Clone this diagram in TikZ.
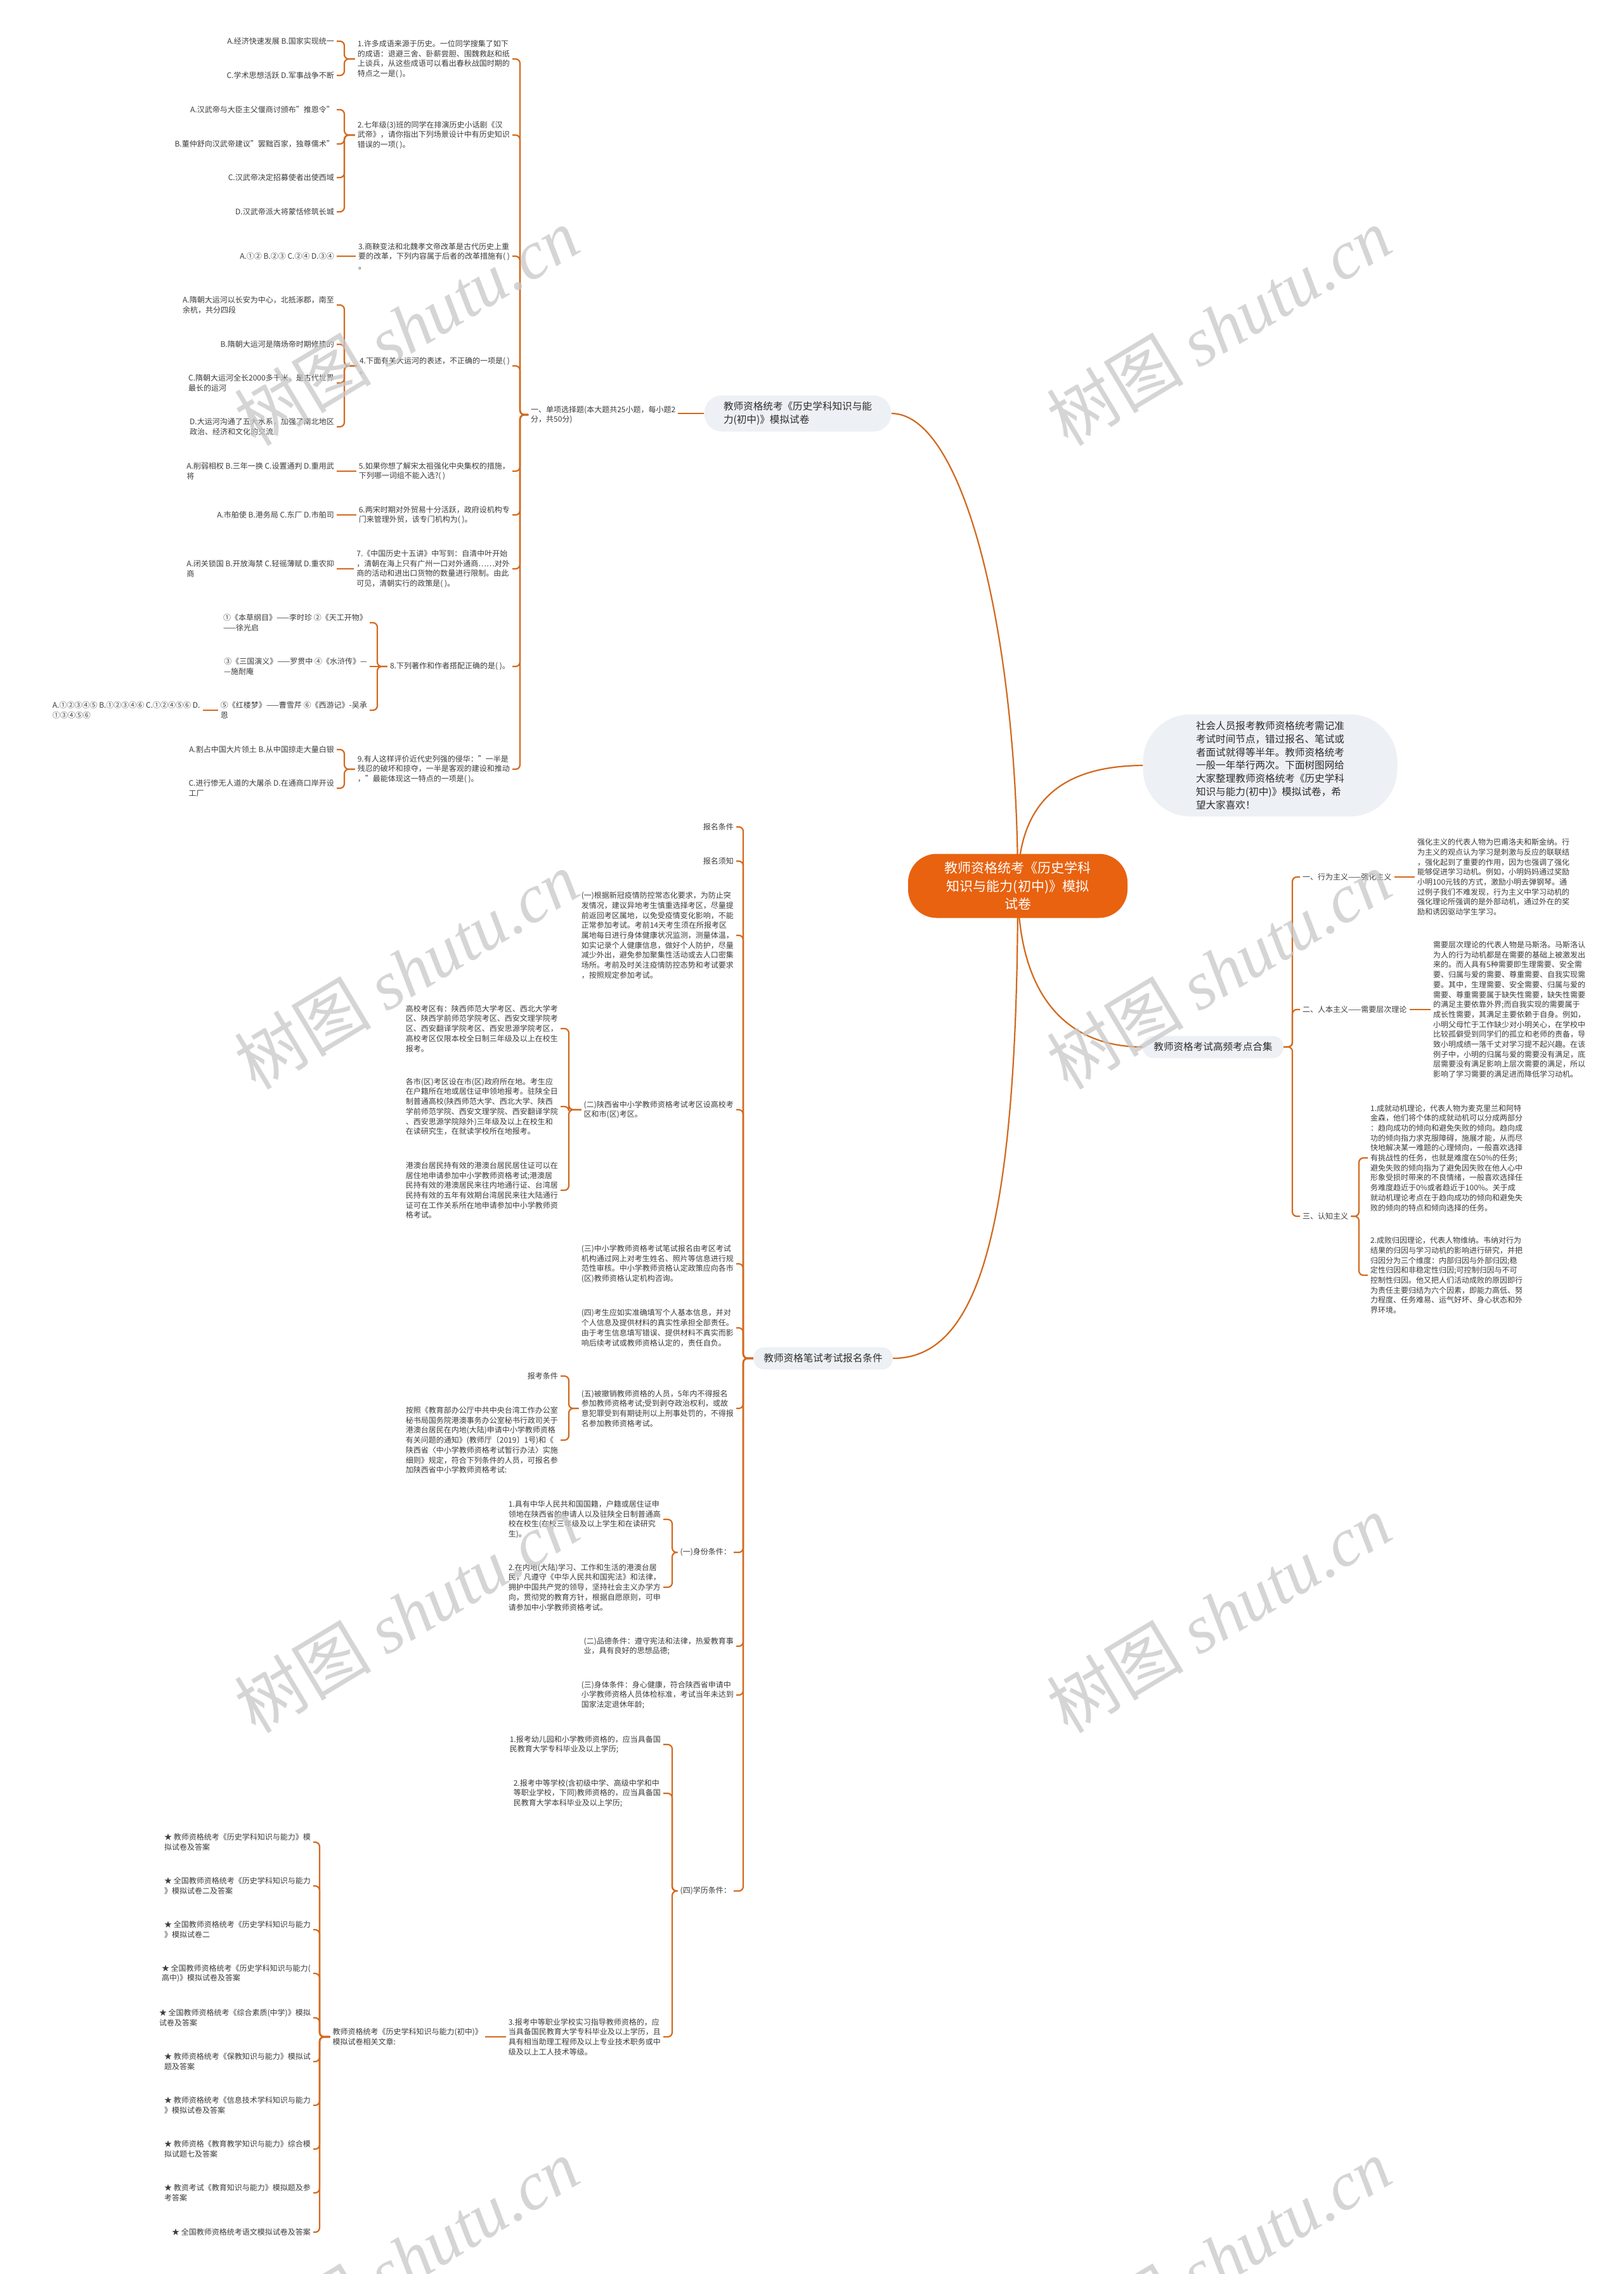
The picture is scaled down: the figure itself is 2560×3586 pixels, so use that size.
\documentclass[tikz,border=0pt]{standalone}
\usepackage{fontspec}
\setmainfont{Noto Sans CJK SC}
\newfontfamily\wmserif{Liberation Serif}
\usetikzlibrary{backgrounds}
\definecolor{conn}{RGB}{210,105,30}
\definecolor{orangec}{RGB}{232,98,16}
\definecolor{nodegray}{RGB}{237,240,244}
\definecolor{txtc}{RGB}{60,60,60}
\definecolor{darktxt}{RGB}{45,45,45}
\definecolor{wmc}{RGB}{200,200,200}
\newcommand\lkbr[3]{\draw[cn] (#1.west) -| (#3 |- #2.east) -- (#2.east);}
\newcommand\rkbr[3]{\draw[cn] (#1.east) -| (#3 |- #2.west) -- (#2.west);}
\tikzset{
  cn/.style={draw=conn, line width=2.2pt, rounded corners=7pt},
  mc/.style={draw=conn, line width=2.2pt},
  tx/.style={font=\fontsize{12}{15.7}\selectfont, text=txtc, align=left, inner xsep=4pt, inner ysep=2pt},
  txl/.style={tx, anchor=east},
  txr/.style={tx, anchor=west},
  gnode/.style={fill=nodegray, text=darktxt, font=\fontsize{15.6}{20.7}\selectfont, align=left, inner sep=0pt},
  cnode/.style={fill=orangec, text=white, font=\fontsize{21}{28.3}\selectfont, align=center, rounded corners=45pt, minimum width=346pt, minimum height=101pt, inner sep=0pt},
  wmk/.style={text=wmc, font=\fontsize{108}{112}\selectfont, rotate=31, opacity=0.75}
}
\begin{document}
\begin{tikzpicture}[x=1pt,y=-1pt]
\useasboundingbox (0,0) rectangle (2560,3586);

% spine coordinates
\coordinate (s1) at (820,0);
\coordinate (s2) at (543,0);
\coordinate (s2b) at (595,0);
\coordinate (s3) at (2038,0);
\coordinate (s4) at (2143,0);
\coordinate (s5) at (1172,0);
\coordinate (s6) at (897,0);
\coordinate (s7) at (1060,0);
\coordinate (s8) at (504,0);

% main nodes
\node[cnode] (ctr) at (1605,1397) {教师资格统考《历史学科\\知识与能力(初中)》模拟\\试卷};
\node[gnode, minimum width=295pt, minimum height=57pt, rounded corners=28pt] (mn) at (1258,652) {教师资格统考《历史学科知识与能\\力(初中)》模拟试卷};
\node[gnode, minimum width=401pt, minimum height=161pt, rounded corners=75pt] (soc) at (2003,1207) {社会人员报考教师资格统考需记准\\考试时间节点，错过报名、笔试或\\者面试就得等半年。教师资格统考\\一般一年举行两次。下面树图网给\\大家整理教师资格统考《历史学科\\知识与能力(初中)》模拟试卷，希\\望大家喜欢！};
\node[gnode, minimum width=222pt, minimum height=35pt, rounded corners=17pt] (kd) at (1913,1651) {教师资格考试高频考点合集};
\node[gnode, minimum width=220pt, minimum height=35pt, rounded corners=17pt] (bm) at (1298,2142) {教师资格笔试考试报名条件};

% ---------- section A ----------
\node[txr] (sel) at (833,654) {一、单项选择题(本大题共25小题，每小题2\\分，共50分)};

\node[txl] (q1) at (808,93) {1.许多成语来源于历史。一位同学搜集了如下\\的成语：退避三舍、卧薪尝胆、围魏救赵和纸\\上谈兵，从这些成语可以看出春秋战国时期的\\特点之一是( )。};
\node[txl] (q1a) at (531,65) {A.经济快速发展 B.国家实现统一};
\node[txl] (q1b) at (531,119) {C.学术思想活跃 D.军事战争不断};

\node[txl] (q2) at (808,213) {2.七年级(3)班的同学在排演历史小话剧《汉\\武帝》，请你指出下列场景设计中有历史知识\\错误的一项( )。};
\node[txl] (q2a) at (531,173) {A.汉武帝与大臣主父偃商讨颁布"推恩令"};
\node[txl] (q2b) at (531,227) {B.董仲舒向汉武帝建议"罢黜百家，独尊儒术"};
\node[txl] (q2c) at (531,280) {C.汉武帝决定招募使者出使西域};
\node[txl] (q2d) at (531,334) {D.汉武帝派大将蒙恬修筑长城};

\node[txl] (q3) at (808,404) {3.商鞅变法和北魏孝文帝改革是古代历史上重\\要的改革，下列内容属于后者的改革措施有( )\\。};
\node[txl] (q3a) at (531,404) {A.①② B.②③ C.②④ D.③④};

\node[txl] (q4) at (808,577) {4.下面有关大运河的表述，不正确的一项是( )\\。};
\node[txl] (q4a) at (531,481) {A.隋朝大运河以长安为中心，北抵涿郡，南至\\余杭，共分四段};
\node[txl] (q4b) at (531,543) {B.隋朝大运河是隋炀帝时期修建的};
\node[txl] (q4c) at (531,604) {C.隋朝大运河全长2000多千米，是古代世界\\最长的运河};
\node[txl] (q4d) at (531,673) {D.大运河沟通了五大水系，加强了南北地区\\政治、经济和文化的交流};

\node[txl] (q5) at (808,743) {5.如果你想了解宋太祖强化中央集权的措施，\\下列哪一词组不能入选?( )};
\node[txl] (q5a) at (531,743) {A.削弱相权 B.三年一换 C.设置通判 D.重用武\\将};

\node[txl] (q6) at (808,812) {6.两宋时期对外贸易十分活跃，政府设机构专\\门来管理外贸，该专门机构为( )。};
\node[txl] (q6a) at (531,812) {A.市舶使 B.港务局 C.东厂 D.市舶司};

\node[txl] (q7) at (808,897) {7.《中国历史十五讲》中写到：自清中叶开始\\，清朝在海上只有广州一口对外通商……对外\\商的活动和进出口货物的数量进行限制。由此\\可见，清朝实行的政策是( )。};
\node[txl] (q7a) at (531,897) {A.闭关锁国 B.开放海禁 C.轻徭薄赋 D.重农抑\\商};

\node[txl] (q8) at (808,1051) {8.下列著作和作者搭配正确的是( )。};
\node[txl] (q8a) at (583,982) {①《本草纲目》——李时珍 ②《天工开物》\\——徐光启};
\node[txl] (q8b) at (583,1051) {③《三国演义》——罗贯中 ④《水浒传》—\\—施耐庵};
\node[txl] (q8c) at (583,1120) {⑤《红楼梦》——曹雪芹 ⑥《西游记》-吴承\\恩};
\node[txl] (q8x) at ([xshift=-24pt]q8c.west) {A.①②③④⑤ B.①②③④⑥ C.①②④⑤⑥ D.\\①③④⑤⑥};

\node[txl] (q9) at (808,1213) {9.有人这样评价近代史列强的侵华："一半是\\残忍的破坏和掠夺，一半是客观的建设和推动\\，"最能体现这一特点的一项是( )。};
\node[txl] (q9a) at (531,1182) {A.割占中国大片领土 B.从中国掠走大量白银};
\node[txl] (q9b) at (531,1243) {C.进行惨无人道的大屠杀 D.在通商口岸开设\\工厂};

% ---------- right section ----------
\node[txr] (b1) at (2050,1383) {一、行为主义——强化主义};
\node[txr] (r1) at (2231,1383) {强化主义的代表人物为巴甫洛夫和斯金纳。行\\为主义的观点认为学习是刺激与反应的联联结\\，强化起到了重要的作用，因为也强调了强化\\能够促进学习动机。例如，小明妈妈通过奖励\\小明100元钱的方式，激励小明去弹钢琴。通\\过例子我们不难发现，行为主义中学习动机的\\强化理论所强调的是外部动机，通过外在的奖\\励和诱因驱动学生学习。};
\node[txr] (b2) at (2050,1592) {二、人本主义——需要层次理论};
\node[txr] (r2) at (2256,1592) {需要层次理论的代表人物是马斯洛。马斯洛认\\为人的行为动机都是在需要的基础上被激发出\\来的。而人具有5种需要即生理需要、安全需\\要、归属与爱的需要、尊重需要、自我实现需\\要。其中，生理需要、安全需要、归属与爱的\\需要、尊重需要属于缺失性需要，缺失性需要\\的满足主要依靠外界;而自我实现的需要属于\\成长性需要，其满足主要依赖于自身。例如，\\小明父母忙于工作缺少对小明关心，在学校中\\比较孤僻受到同学们的孤立和老师的责备，导\\致小明成绩一落千丈对学习提不起兴趣。在该\\例子中，小明的归属与爱的需要没有满足，底\\层需要没有满足影响上层次需要的满足，所以\\影响了学习需要的满足进而降低学习动机。};
\node[txr] (b3) at (2050,1918) {三、认知主义};
\node[txr] (r3a) at (2157,1826) {1.成就动机理论，代表人物为麦克里兰和阿特\\金森，他们将个体的成就动机可以分成两部分\\：趋向成功的倾向和避免失败的倾向。趋向成\\功的倾向指力求克服障碍，施展才能，从而尽\\快地解决某一难题的心理倾向，一般喜欢选择\\有挑战性的任务，也就是难度在50\%的任务;\\避免失败的倾向指为了避免因失败在他人心中\\形象受损时带来的不良情绪，一般喜欢选择任\\务难度趋近于0\%或者趋近于100\%。关于成\\就动机理论考点在于趋向成功的倾向和避免失\\败的倾向的特点和倾向选择的任务。};
\node[txr] (r3b) at (2157,2011) {2.成败归因理论，代表人物维纳。韦纳对行为\\结果的归因与学习动机的影响进行研究，并把\\归因分为三个维度：内部归因与外部归因;稳\\定性归因和非稳定性归因;可控制归因与不可\\控制性归因。他又把人们活动成败的原因即行\\为责任主要归结为六个因素，即能力高低、努\\力程度、任务难易、运气好坏、身心状态和外\\界环境。};

% ---------- bottom section ----------
\node[txl] (c1) at (1161,1304) {报名条件};
\node[txl] (c2) at (1161,1358) {报名须知};
\node[txl] (c3) at (1161,1475) {(一)根据新冠疫情防控常态化要求，为防止突\\发情况，建议异地考生慎重选择考区，尽量提\\前返回考区属地，以免受疫情变化影响，不能\\正常参加考试。考前14天考生须在所报考区\\属地每日进行身体健康状况监测，测量体温，\\如实记录个人健康信息，做好个人防护，尽量\\减少外出，避免参加聚集性活动或去人口密集\\场所。考前及时关注疫情防控态势和考试要求\\，按照规定参加考试。};
\node[txl] (c4) at (1161,1750) {(二)陕西省中小学教师资格考试考区设高校考\\区和市(区)考区。};
\node[txl] (c4a) at (884,1622) {高校考区有：陕西师范大学考区、西北大学考\\区、陕西学前师范学院考区、西安文理学院考\\区、西安翻译学院考区、西安思源学院考区，\\高校考区仅限本校全日制三年级及以上在校生\\报考。};
\node[txl] (c4b) at (884,1745) {各市(区)考区设在市(区)政府所在地。考生应\\在户籍所在地或居住证申领地报考。驻陕全日\\制普通高校(陕西师范大学、西北大学、陕西\\学前师范学院、西安文理学院、西安翻译学院\\、西安思源学院除外)三年级及以上在校生和\\在读研究生，在就读学校所在地报考。};
\node[txl] (c4c) at (884,1877) {港澳台居民持有效的港澳台居民居住证可以在\\居住地申请参加中小学教师资格考试;港澳居\\民持有效的港澳居民来往内地通行证、台湾居\\民持有效的五年有效期台湾居民来往大陆通行\\证可在工作关系所在地申请参加中小学教师资\\格考试。};
\node[txl] (c5) at (1161,1993) {(三)中小学教师资格考试笔试报名由考区考试\\机构通过网上对考生姓名、照片等信息进行规\\范性审核。中小学教师资格认定政策应向各市\\(区)教师资格认定机构咨询。};
\node[txl] (c6) at (1161,2094) {(四)考生应如实准确填写个人基本信息，并对\\个人信息及提供材料的真实性承担全部责任。\\由于考生信息填写错误、提供材料不真实而影\\响后续考试或教师资格认定的，责任自负。};
\node[txl] (c7) at (1161,2221) {(五)被撤销教师资格的人员，5年内不得报名\\参加教师资格考试;受到剥夺政治权利，或故\\意犯罪受到有期徒刑以上刑事处罚的，不得报\\名参加教师资格考试。};
\node[txl] (c7a) at (884,2170) {报考条件};
\node[txl] (c7b) at (884,2271) {按照《教育部办公厅中共中央台湾工作办公室\\秘书局国务院港澳事务办公室秘书行政司关于\\港澳台居民在内地(大陆)申请中小学教师资格\\有关问题的通知》(教师厅〔2019〕1号)和《\\陕西省〈中小学教师资格考试暂行办法〉实施\\细则》规定，符合下列条件的人员，可报名参\\加陕西省中小学教师资格考试:};
\node[txl] (c8) at (1157,2448) {(一)身份条件：};
\node[txl] (c8a) at (1046,2396) {1.具有中华人民共和国国籍，户籍或居住证申\\领地在陕西省的申请人以及驻陕全日制普通高\\校在校生(在校三年级及以上学生和在读研究\\生)。};
\node[txl] (c8b) at (1046,2503) {2.在内地(大陆)学习、工作和生活的港澳台居\\民，凡遵守《中华人民共和国宪法》和法律，\\拥护中国共产党的领导，坚持社会主义办学方\\向，贯彻党的教育方针，根据自愿原则，可申\\请参加中小学教师资格考试。};
\node[txl] (c9) at (1161,2596) {(二)品德条件：遵守宪法和法律，热爱教育事\\业，具有良好的思想品德;};
\node[txl] (c10) at (1161,2673) {(三)身体条件：身心健康，符合陕西省申请中\\小学教师资格人员体检标准，考试当年未达到\\国家法定退休年龄;};
\node[txl] (c11) at (1157,2982) {(四)学历条件：};
\node[txl] (c11a) at (1046,2751) {1.报考幼儿园和小学教师资格的，应当具备国\\民教育大学专科毕业及以上学历;};
\node[txl] (c11b) at (1046,2828) {2.报考中等学校(含初级中学、高级中学和中\\等职业学校，下同)教师资格的，应当具备国\\民教育大学本科毕业及以上学历;};
\node[txl] (c11c) at (1046,3212) {3.报考中等职业学校实习指导教师资格的，应\\当具备国民教育大学专科毕业及以上学历，且\\具有相当助理工程师及以上专业技术职务或中\\级及以上工人技术等级。};
\node[txl] (rel) at (765,3212) {教师资格统考《历史学科知识与能力(初中)》\\模拟试卷相关文章:};
\node[txl] (a1) at (494,2905) {★ 教师资格统考《历史学科知识与能力》模\\拟试卷及答案};
\node[txl] (a2) at (494,2974) {★ 全国教师资格统考《历史学科知识与能力\\》模拟试卷二及答案};
\node[txl] (a3) at (494,3043) {★ 全国教师资格统考《历史学科知识与能力\\》模拟试卷二};
\node[txl] (a4) at (494,3112) {★ 全国教师资格统考《历史学科知识与能力(\\高中)》模拟试卷及答案};
\node[txl] (a5) at (494,3182) {★ 全国教师资格统考《综合素质(中学)》模拟\\试卷及答案};
\node[txl] (a6) at (494,3251) {★ 教师资格统考《保教知识与能力》模拟试\\题及答案};
\node[txl] (a7) at (494,3320) {★ 教师资格统考《信息技术学科知识与能力\\》模拟试卷及答案};
\node[txl] (a8) at (494,3389) {★ 教师资格《教育教学知识与能力》综合模\\拟试题七及答案};
\node[txl] (a9) at (494,3458) {★ 教资考试《教育知识与能力》模拟题及参\\考答案};
\node[txl] (a10) at (494,3520) {★ 全国教师资格统考语文模拟试卷及答案};

% ---------- connectors ----------
\begin{scope}[on background layer]
\fill[white] (0,0) rectangle (2560,3586);
\draw[mc] (ctr.center) .. controls (1605,1000) and (1520,652) .. (mn.east);
\draw[mc] (ctr.center) .. controls (1605,1250) and (1690,1208) .. (soc.west);
\draw[mc] (ctr.center) .. controls (1605,1580) and (1690,1651) .. (kd.west);
\draw[mc] (ctr.center) .. controls (1605,1950) and (1540,2142) .. (bm.east);
\end{scope}

\draw[mc] (mn.west) -- (mn.west -| sel.east);
\foreach \q in {q1,q2,q3,q4,q5,q6,q7,q8,q9} {\lkbr{sel}{\q}{s1}}
\lkbr{q1}{q1a}{s2} \lkbr{q1}{q1b}{s2}
\lkbr{q2}{q2a}{s2} \lkbr{q2}{q2b}{s2} \lkbr{q2}{q2c}{s2} \lkbr{q2}{q2d}{s2}
\draw[mc] (q3.west) -- (q3a.east);
\lkbr{q4}{q4a}{s2} \lkbr{q4}{q4b}{s2} \lkbr{q4}{q4c}{s2} \lkbr{q4}{q4d}{s2}
\draw[mc] (q5.west) -- (q5a.east);
\draw[mc] (q6.west) -- (q6a.east);
\draw[mc] (q7.west) -- (q7a.east);
\lkbr{q8}{q8a}{s2b} \draw[mc] (q8.west) -- (q8b.east); \lkbr{q8}{q8c}{s2b}
\draw[mc] (q8c.west) -- (q8x.east);
\lkbr{q9}{q9a}{s2} \lkbr{q9}{q9b}{s2}

\rkbr{kd}{b1}{s3} \rkbr{kd}{b2}{s3} \rkbr{kd}{b3}{s3}
\draw[mc] (b1.east) -- (r1.west);
\draw[mc] (b2.east) -- (r2.west);
\rkbr{b3}{r3a}{s4} \rkbr{b3}{r3b}{s4}

\foreach \c in {c1,c2,c3,c4,c5,c6,c7,c8,c9,c10,c11} {\lkbr{bm}{\c}{s5}}
\lkbr{c4}{c4a}{s6} \lkbr{c4}{c4b}{s6} \lkbr{c4}{c4c}{s6}
\lkbr{c7}{c7a}{s6} \lkbr{c7}{c7b}{s6}
\lkbr{c8}{c8a}{s7} \lkbr{c8}{c8b}{s7}
\lkbr{c11}{c11a}{s7} \lkbr{c11}{c11b}{s7} \lkbr{c11}{c11c}{s7}
\draw[mc] (c11c.west) -- (rel.east);
\foreach \a in {a1,a2,a3,a4,a5,a6,a7,a8,a9,a10} {\lkbr{rel}{\a}{s8}}

% ---------- watermarks ----------
\node[wmk] (w1) at (641,515) {树图 {\wmserif\itshape shutu.cn}};
\node[wmk] (w2) at (1922,515) {树图 {\wmserif\itshape shutu.cn}};
\node[wmk] (w3) at (641,1530) {树图 {\wmserif\itshape shutu.cn}};
\node[wmk] (w4) at (1922,1530) {树图 {\wmserif\itshape shutu.cn}};
\node[wmk] (w5) at (641,2545) {树图 {\wmserif\itshape shutu.cn}};
\node[wmk] (w6) at (1922,2545) {树图 {\wmserif\itshape shutu.cn}};
\node[wmk] (w7) at (641,3560) {树图 {\wmserif\itshape shutu.cn}};
\node[wmk] (w8) at (1922,3560) {树图 {\wmserif\itshape shutu.cn}};
\end{tikzpicture}
\end{document}
